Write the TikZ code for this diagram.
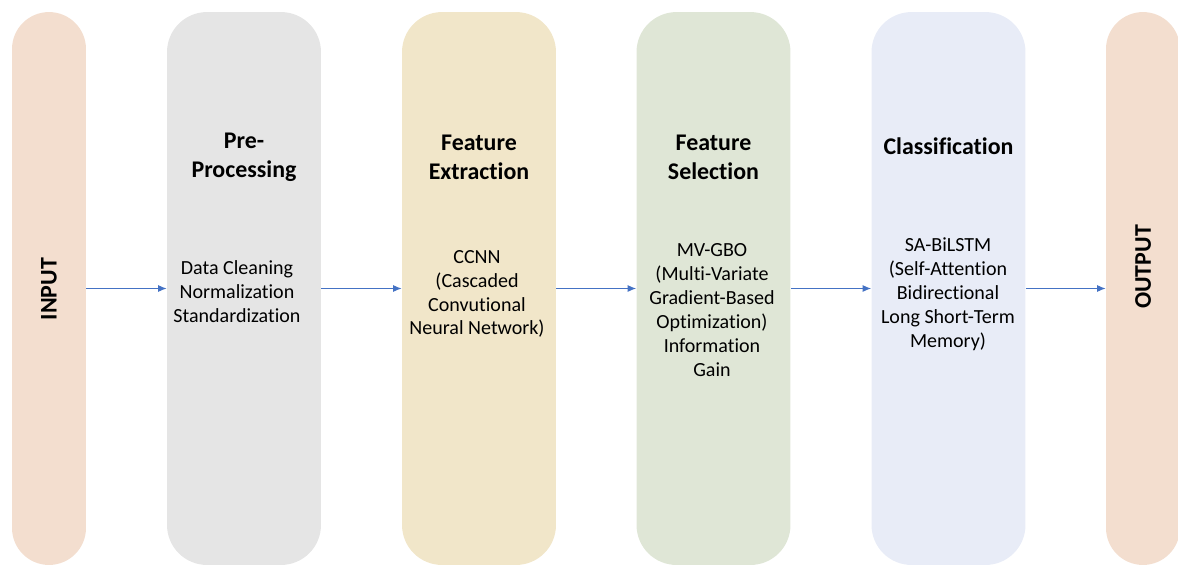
\documentclass[tikz,border=0pt]{standalone}
\usepackage{fontspec}
\setmainfont[Ligatures=CommonOff]{Carlito}
\usetikzlibrary{arrows.meta}
\definecolor{peachfill}{HTML}{F3DECF}
\definecolor{grayfill}{HTML}{E5E5E5}
\definecolor{tanfill}{HTML}{F1E6C9}
\definecolor{greenfill}{HTML}{DFE6D6}
\definecolor{bluefill}{HTML}{E8ECF7}
\definecolor{flowblue}{HTML}{4472C4}

\begin{document}
\begin{tikzpicture}[x=0.02cm,y=-0.02cm,
  stage/.style={rounded corners=0.8cm,minimum width=3.08cm,minimum height=11.06cm,inner sep=0pt},
  pill/.style={rounded corners=0.74cm,minimum width=1.48cm,minimum height=11.06cm,inner sep=0pt,fill=peachfill},
  head/.style={font=\bfseries\fontsize{13.6}{16.4}\selectfont,align=center,inner sep=0pt},
  body/.style={font=\fontsize{11.4}{13.6}\selectfont,align=center,inner sep=0pt},
  flow/.style={draw=flowblue,line width=0.6pt,-{Latex[length=1.7mm,width=1.4mm]}}]
 \clip (0,0) rectangle (1178,566);
 \def\midy{288.5}
 % input and output
 \node[pill] (in) at (49,\midy) {};
 \node[pill] (out) at (1143,\midy) {};
 \node[head,rotate=90] (inlabel) at (49,289) {INPUT};
 \node[head,rotate=90] (outlabel) at (1143,267) {OUTPUT};
 % stages
 \foreach \x / \col / \nm in {244/grayfill/pre, 479/tanfill/fe, 713.5/greenfill/fs, 948.5/bluefill/cl}
  {
    \node[stage,fill=\col] (\nm) at (\x,\midy) {};
  }
 \node[head] (prehead) at (244,157.5) {Pre-\\Processing};
 \node[head] (fehead) at (479,157.5) {Feature\\Extraction};
 \node[head] (fshead) at (713.5,157.5) {Feature\\Selection};
 \node[head] (clhead) at (948.5,146) {Classification};
 \node[body] (prebody) at (237,292) {Data Cleaning\\Normalization\\Standardization};
 \node[body] (febody) at (477,294) {CCNN\\(Cascaded\\Convutional\\Neural Network)};
 \node[body] (fsbody) at (712,310) {MV-GBO\\(Multi-Variate\\Gradient-Based\\Optimization)\\Information\\Gain};
 \node[body] (clbody) at (948,294) {SA-BiLSTM\\(Self-Attention\\Bidirectional\\Long Short-Term\\Memory)};
 % arrows
 \foreach \a / \b in {in/pre, pre/fe, fe/fs, fs/cl, cl/out}
  {
    \draw[flow] (\a) -- (\b);
  }
\end{tikzpicture}
\end{document}
